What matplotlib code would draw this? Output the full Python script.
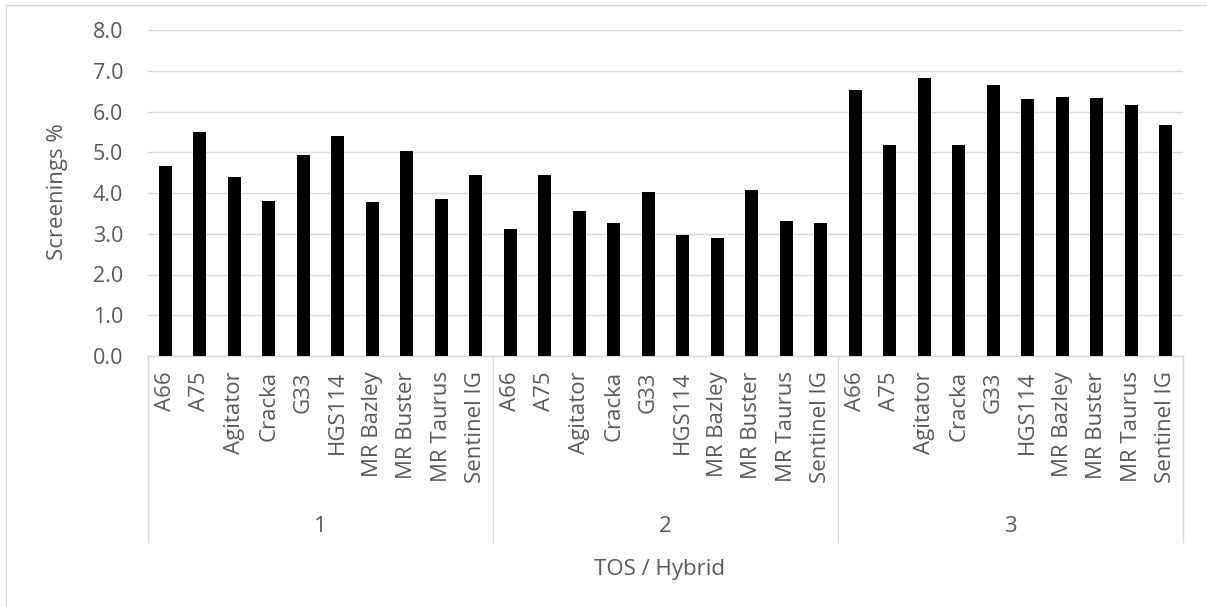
import matplotlib
matplotlib.use("Agg")
import matplotlib.pyplot as plt
from matplotlib.patches import Rectangle
from matplotlib.lines import Line2D
import matplotlib.transforms as mtransforms

plt.rcParams['font.family'] = ['Open Sans', 'DejaVu Sans']

# Data
tos_groups = ["1", "2", "3"]
hybrids = ["A66", "A75", "Agitator", "Cracka", "G33", "HGS114",
           "MR Bazley", "MR Buster", "MR Taurus", "Sentinel IG"]
screenings_tos1 = [4.66, 5.50, 4.39, 3.80, 4.93, 5.40, 3.77, 5.02, 3.86, 4.44]
screenings_tos2 = [3.12, 4.44, 3.57, 3.26, 4.02, 2.97, 2.90, 4.08, 3.32, 3.26]
screenings_tos3 = [6.52, 5.19, 6.81, 5.19, 6.66, 6.30, 6.36, 6.33, 6.16, 5.66]
y_ticks = [0.0, 1.0, 2.0, 3.0, 4.0, 5.0, 6.0, 7.0, 8.0]

values = screenings_tos1 + screenings_tos2 + screenings_tos3
labels = hybrids * len(tos_groups)
positions = list(range(len(values)))

TEXT = "#595959"
GRID = "#d9d9d9"

W, H = 1207, 607
fig = plt.figure(figsize=(W / 100, H / 100), dpi=100)

# outer chart frame
fig.add_artist(Rectangle((6 / W, -0.1), 1.2, 1 - 5 / H + 0.1,
                         transform=fig.transFigure, fill=False,
                         edgecolor=GRID, linewidth=1.0))

left, right, top, bottom = 148, 1183, 30, 356
ax = fig.add_axes([left / W, 1 - bottom / H, (right - left) / W, (bottom - top) / H])

ax.bar(positions, values, width=0.38, color="black", zorder=3)

ax.set_xlim(-0.5, len(values) - 0.5)
ax.set_ylim(0, 8)
ax.set_yticks(y_ticks)
ax.set_yticklabels([f"{v:.1f}" for v in y_ticks])
ax.yaxis.grid(True, color=GRID, linewidth=1.0, zorder=0)
ax.set_axisbelow(True)
for side in ["left", "right", "top"]:
    ax.spines[side].set_visible(False)
ax.spines["bottom"].set_color(GRID)
ax.spines["bottom"].set_linewidth(1.0)

ax.tick_params(axis="y", length=0, pad=18, labelsize=15.5, labelcolor=TEXT)
ax.set_xticks(positions)
ax.set_xticklabels(labels, rotation=90, va="top", ha="center")
ax.tick_params(axis="x", length=0, pad=11, labelsize=16, labelcolor=TEXT)

# grouped category axis: separators and group labels
trans = mtransforms.blended_transform_factory(ax.transData, ax.transAxes)
sep_bottom = -(542 - bottom) / (bottom - top)
n = len(hybrids)
for k in range(len(tos_groups) + 1):
    x = k * n - 0.5
    ax.add_line(Line2D([x, x], [0, sep_bottom], transform=trans,
                       color=GRID, linewidth=1.0, clip_on=False))
group_y = -(527 - bottom) / (bottom - top)
for k, g in enumerate(tos_groups):
    ax.text(k * n + (n - 1) / 2, group_y, g, transform=trans,
            ha="center", va="center", fontsize=16, color=TEXT)

fig.text(58 / W, 1 - 192 / H, "Screenings %", rotation=90,
         ha="center", va="center", fontsize=16, color=TEXT)
fig.text(660 / W, 1 - 570 / H, "TOS / Hybrid",
         ha="center", va="center", fontsize=16, color=TEXT)

fig.savefig("out.png", dpi=100, facecolor="white")
